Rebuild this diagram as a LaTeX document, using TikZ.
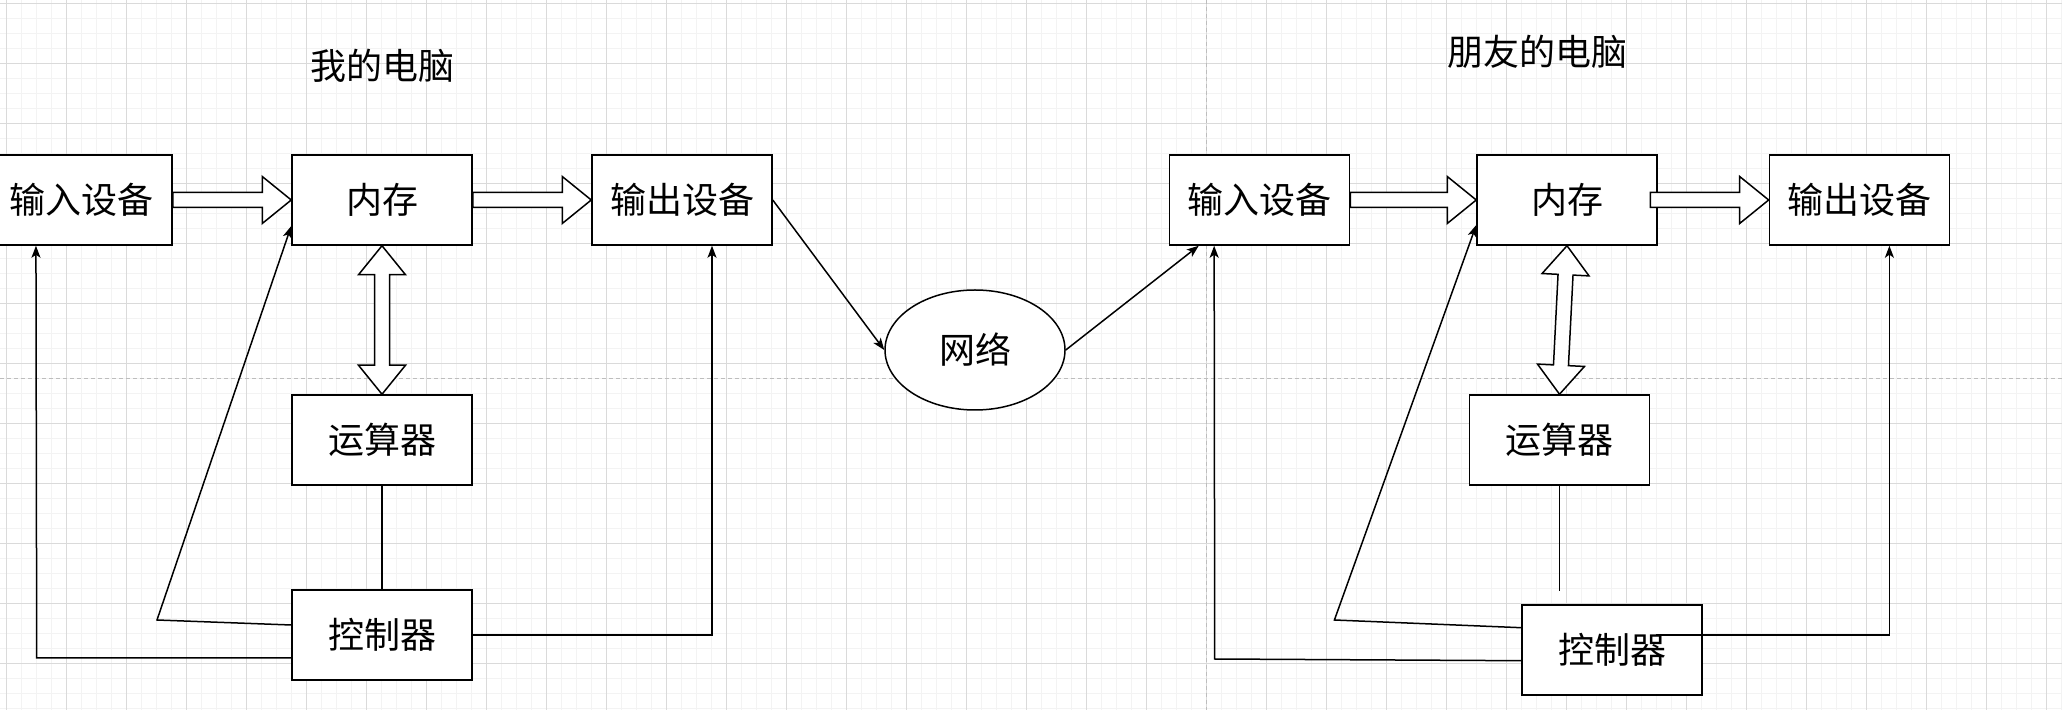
\documentclass[tikz,border=0pt]{standalone}
\usepackage{fontspec}
\setmainfont{Noto Sans CJK SC}
\usetikzlibrary{arrows.meta,calc,shapes.geometric}
\definecolor{gminor}{HTML}{F3F3F3}
\definecolor{gmajor}{HTML}{DADADA}
\definecolor{pagebrk}{HTML}{BDBDBD}
\tikzset{
  box/.style={draw=black, line width=0.75pt, fill=white, minimum width=90pt, minimum height=45pt, inner sep=0pt, font=\fontsize{18pt}{20pt}\selectfont},
  ttl/.style={inner sep=0pt, font=\fontsize{18pt}{20pt}\selectfont},
  conn/.style={draw=black, line width=0.75pt, -{Stealth[length=6pt,width=4.5pt,inset=1.5pt]}},
  plainln/.style={draw=black, line width=0.75pt},
  barr/.style={draw=black, line width=0.75pt, fill=white, line join=miter},
}
\newcommand\blockarrow[2]{%
  \draw[barr] let \p1=(#1), \p2=(#2), \n1={atan2(\y2-\y1,\x2-\x1)}, \n2={veclen(\x2-\x1,\y2-\y1)} in
    [shift={(\p1)}, rotate=\n1]
    (0pt,-3.75pt) -- (\n2-14.5pt,-3.75pt) -- (\n2-14.5pt,-11.75pt) -- (\n2,0pt)
    -- (\n2-14.5pt,11.75pt) -- (\n2-14.5pt,3.75pt) -- (0pt,3.75pt) -- cycle;}
\newcommand\dblockarrow[2]{%
  \draw[barr] let \p1=(#1), \p2=(#2), \n1={atan2(\y2-\y1,\x2-\x1)}, \n2={veclen(\x2-\x1,\y2-\y1)} in
    [shift={(\p1)}, rotate=\n1]
    (0pt,0pt) -- (14.5pt,-11.75pt) -- (14.5pt,-3.75pt) -- (\n2-14.5pt,-3.75pt) -- (\n2-14.5pt,-11.75pt) -- (\n2,0pt)
    -- (\n2-14.5pt,11.75pt) -- (\n2-14.5pt,3.75pt) -- (14.5pt,3.75pt) -- (14.5pt,11.75pt) -- cycle;}
\begin{document}
\begin{tikzpicture}[x=0.5pt,y=-0.5pt]
\useasboundingbox (0,0) rectangle (2062,710);
\fill[white] (0,0) rectangle (2062,710);
% grid
\foreach \k in {0,...,137} { \draw[gminor, line width=0.5pt] ({6.7+15*\k},0) -- ({6.7+15*\k},710); }
\foreach \k in {0,...,47} { \draw[gminor, line width=0.5pt] (0,{3.3+15*\k}) -- (2062,{3.3+15*\k}); }
\foreach \k in {0,...,34} { \draw[gmajor, line width=0.5pt] ({6.7+60*\k},0) -- ({6.7+60*\k},710); }
\foreach \k in {0,...,11} { \draw[gmajor, line width=0.5pt] (0,{3.3+60*\k}) -- (2062,{3.3+60*\k}); }
% page breaks
\draw[pagebrk, line width=0.5pt, dash pattern=on 2pt off 1.5pt] (1206.7,0) -- (1206.7,710);
\draw[pagebrk, line width=0.5pt, dash pattern=on 2pt off 1.5pt] (0,378.3) -- (2062,378.3);

% titles
\node[ttl] (titleL) at (382.5,66) {我的电脑};
\node[ttl] (titleR) at (1537,51.5) {朋友的电脑};

% left computer
\node[box] (inL)  at (82,200)  {输入设备};
\node[box] (memL) at (382,200) {内存};
\node[box] (outL) at (682,200) {输出设备};
\node[box] (aluL) at (382,440) {运算器};
\node[box] (ctlL) at (382,635) {控制器};

% network
\node[draw=black, ellipse, line width=0.75pt, fill=white, minimum width=90pt, minimum height=60pt, inner sep=0pt, font=\fontsize{18pt}{20pt}\selectfont] (net) at (975,350) {网络};

% right computer
\node[box] (inR)  at (1259.5,200) {输入设备};
\node[box] (memR) at (1567,200)   {内存};
\node[box] (outR) at (1859.4,200) {输出设备};
\node[box] (aluR) at (1559.5,440) {运算器};
\node[box] (ctlR) at (1612,650)   {控制器};

% left connectors
\blockarrow{inL.east}{memL.west}
\blockarrow{memL.east}{outL.west}
\dblockarrow{memL.south}{aluL.north}
\draw[plainln] (aluL.south) -- (ctlL.north);
\draw[conn] ([yshift=-11.5pt]ctlL.west) -- (36.7,658) -- ([xshift=22.35pt]inL.south west);
\draw[conn] ([yshift=5pt]ctlL.west) -- (157,620) -- ([yshift=-13pt]memL.west);
\draw[conn] (ctlL.east) -| ([xshift=15pt]outL.south);

% network connectors
\draw[conn] (outL.east) -- (net.west);
\draw[conn] (net.east) -- ([xshift=15pt]inR.south west);

% right connectors
\blockarrow{inR.east}{memR.west}
\blockarrow{[xshift=-3.65pt]memR.east}{outR.west}
\dblockarrow{memR.south}{aluR.north}
\draw[plainln] (aluR.south) -- ++(0,105);
\draw[conn] ([yshift=-5.35pt]ctlR.west) -- (1214.7,659) -- ([xshift=22.7pt]inR.south west);
\draw[conn] ([yshift=11.15pt]ctlR.west) -- (1334.4,620) -- ([yshift=-12.5pt]memR.west);
\draw[conn] ([xshift=22pt,yshift=7.5pt]ctlR.center) -| ([xshift=15pt]outR.south);
\end{tikzpicture}
\end{document}
